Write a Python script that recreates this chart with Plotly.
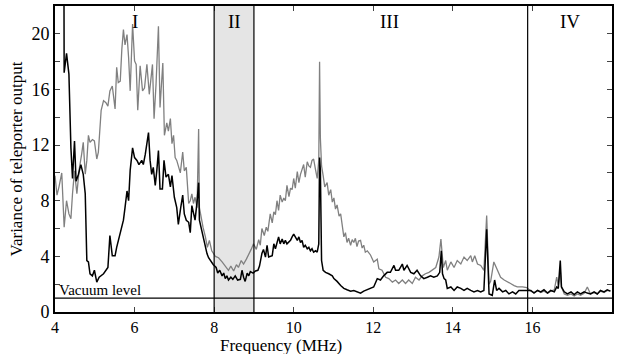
import plotly.graph_objects as go

# ---------------- data ----------------
black_x = [4.22, 4.23, 4.29, 4.35, 4.40, 4.44, 4.49, 4.53, 4.59, 4.65, 4.71, 4.76, 4.80, 4.84, 4.88, 4.94, 4.99,
           5.05, 5.11, 5.22, 5.33, 5.38, 5.44, 5.51, 5.55, 5.64, 5.72, 5.76, 5.81, 5.85, 5.89, 5.95,
           6.00, 6.06, 6.11, 6.18, 6.22, 6.27, 6.35, 6.39, 6.43, 6.47, 6.52, 6.56, 6.60, 6.64, 6.70, 6.74,
           6.79, 6.85, 6.90, 6.94, 7.00, 7.06, 7.10, 7.16, 7.21, 7.25, 7.30, 7.36, 7.40, 7.44, 7.48, 7.52,
           7.57, 7.61, 7.63, 7.67, 7.72, 7.78, 7.82, 7.86, 7.92, 7.98, 8.05, 8.09, 8.14, 8.20, 8.24, 8.28,
           8.32, 8.36, 8.42, 8.47, 8.53, 8.59, 8.66, 8.70, 8.74, 8.78, 8.83, 8.87, 8.91, 8.98, 9.04, 9.10,
           9.14, 9.20, 9.24, 9.29, 9.33, 9.37, 9.46, 9.50, 9.54, 9.58, 9.62, 9.66, 9.71, 9.75, 9.79, 9.83,
           9.92, 9.96, 10.00, 10.04, 10.09, 10.13, 10.17, 10.21, 10.25, 10.29, 10.34, 10.38, 10.42, 10.46,
           10.50, 10.55, 10.59, 10.63, 10.65, 10.67, 10.70, 10.74, 10.80, 10.88, 10.97, 11.01, 11.09, 11.18,
           11.26, 11.34, 11.43, 11.51, 11.59, 11.68, 11.76, 11.85, 11.93, 12.01, 12.10, 12.18, 12.26, 12.35,
           12.43, 12.52, 12.56, 12.64, 12.73, 12.77, 12.85, 12.94, 13.02, 13.10, 13.19, 13.27, 13.36, 13.44,
           13.52, 13.61, 13.67, 13.71, 13.74, 13.78, 13.82, 13.86, 13.95, 14.03, 14.11, 14.20, 14.28, 14.36,
           14.45, 14.53, 14.62, 14.70, 14.78, 14.85, 14.91, 14.99, 15.05, 15.10, 15.16, 15.25, 15.33, 15.41,
           15.50, 15.58, 15.66, 15.79, 15.88, 15.96, 16.04, 16.13, 16.21, 16.29, 16.38, 16.46, 16.55, 16.61,
           16.65, 16.70, 16.73, 16.80, 16.88, 16.97, 17.05, 17.13, 17.21, 17.30, 17.38, 17.46, 17.55, 17.63,
           17.71, 17.80, 17.88, 17.96]
black_y = [30.0, 17.2, 18.6, 17.1, 11.8, 9.6, 12.3, 9.4, 9.9, 10.6, 9.9, 8.5, 3.7, 3.6, 2.75, 2.6, 3.0,
           2.15, 2.5, 2.75, 3.2, 5.5, 4.05, 4.05, 4.65, 5.6, 6.6, 7.5, 8.7, 8.0, 10.2, 11.8,
           11.1, 10.9, 10.6, 10.9, 10.6, 11.35, 12.9, 10.9, 9.9, 10.4, 9.1, 10.2, 11.6, 8.85, 8.85, 10.9,
           9.7, 9.9, 9.0, 9.8, 8.25, 7.5, 6.3, 7.5, 8.4, 7.05, 6.6, 6.45, 5.7, 7.65, 7.2, 6.6,
           7.9, 9.3, 6.6, 6.1, 5.25, 4.65, 4.2, 3.9, 3.6, 3.4, 3.2, 2.8, 3.0, 2.6, 2.8, 2.4,
           2.6, 2.3, 2.5, 2.35, 2.6, 2.3, 2.35, 3.0, 2.5, 2.2, 2.8, 2.6, 2.9, 2.8, 2.95, 3.0,
           3.3, 4.2, 4.5, 3.95, 4.8, 3.95, 4.05, 4.9, 4.55, 5.0, 5.4, 4.9, 5.25, 4.9, 5.15, 4.9,
           5.15, 5.4, 5.6, 5.4, 5.15, 5.4, 5.0, 5.15, 4.65, 4.8, 4.55, 4.65, 4.4, 4.55,
           4.3, 4.4, 4.3, 4.9, 11.1, 10.2, 3.7, 3.0, 2.85, 2.75, 2.6, 2.4, 2.2, 1.9,
           1.7, 1.6, 1.5, 1.55, 1.45, 1.35, 1.5, 1.6, 1.7, 1.8, 2.4, 2.3, 2.6, 2.85,
           2.85, 3.35, 3.0, 3.0, 3.45, 3.0, 3.35, 2.85, 2.75, 3.0, 2.6, 2.4, 2.5, 2.6,
           2.5, 2.6, 2.85, 4.4, 2.75, 2.4, 2.3, 1.7, 1.8, 1.55, 1.8, 1.7, 1.55, 1.7,
           1.55, 1.45, 1.55, 1.45, 1.55, 5.95, 1.3, 1.2, 2.3, 1.55, 1.7, 1.45, 1.55, 1.3,
           1.45, 1.3, 1.55, 1.55, 1.6, 1.55, 1.36, 1.55, 1.45, 1.6, 1.36, 1.55, 1.45, 1.8,
           1.7, 3.7, 1.8, 1.45, 1.3, 1.45, 1.25, 1.45, 1.3, 1.45, 1.36, 1.3, 1.45, 1.3,
           1.55, 1.45, 1.6, 1.5]

gray_x = [4.00, 4.05, 4.10, 4.17, 4.23, 4.29, 4.35, 4.40, 4.44, 4.49, 4.55, 4.61, 4.67, 4.71, 4.76, 4.80,
          4.84, 4.88, 4.94, 4.99, 5.05, 5.09, 5.16, 5.22, 5.28, 5.33, 5.38, 5.44, 5.51, 5.55, 5.59, 5.64,
          5.68, 5.72, 5.76, 5.81, 5.85, 5.89, 5.95, 6.00, 6.04, 6.08, 6.14, 6.20, 6.25, 6.31, 6.37, 6.42,
          6.45, 6.49, 6.54, 6.60, 6.64, 6.71, 6.75, 6.81, 6.85, 6.90, 6.94, 6.98, 7.02, 7.06, 7.10, 7.15,
          7.21, 7.25, 7.30, 7.36, 7.40, 7.44, 7.48, 7.52, 7.57, 7.61, 7.63, 7.67, 7.72, 7.78, 7.83, 7.88,
          7.94, 8.03, 8.11, 8.20, 8.28, 8.36, 8.42, 8.49, 8.56, 8.61, 8.68, 8.74, 8.81, 8.87, 8.93, 8.99,
          9.06, 9.12, 9.16, 9.20, 9.26, 9.31, 9.35, 9.41, 9.46, 9.50, 9.54, 9.58, 9.62, 9.66, 9.71, 9.75,
          9.79, 9.83, 9.88, 9.92, 9.96, 10.00, 10.04, 10.09, 10.13, 10.17, 10.21, 10.25, 10.29, 10.34,
          10.38, 10.42, 10.46, 10.50, 10.55, 10.59, 10.63, 10.65, 10.67, 10.70, 10.74, 10.78, 10.84, 10.88,
          10.93, 10.97, 11.01, 11.05, 11.09, 11.14, 11.18, 11.22, 11.26, 11.30, 11.34, 11.38, 11.43, 11.47,
          11.51, 11.55, 11.59, 11.63, 11.68, 11.72, 11.76, 11.80, 11.85, 11.93, 12.01, 12.10, 12.14, 12.22,
          12.31, 12.39, 12.48, 12.56, 12.64, 12.73, 12.81, 12.89, 12.98, 13.06, 13.15, 13.23, 13.31, 13.40,
          13.48, 13.57, 13.65, 13.70, 13.76, 13.82, 13.86, 13.95, 14.03, 14.11, 14.20, 14.28, 14.36, 14.45,
          14.49, 14.55, 14.62, 14.70, 14.78, 14.85, 14.91, 14.95, 15.03, 15.12, 15.20, 15.29, 15.37, 15.45,
          15.54, 15.62, 15.75, 15.86, 15.96, 16.04, 16.13, 16.21, 16.29, 16.38, 16.46, 16.55, 16.61, 16.65,
          16.70, 16.73, 16.80, 16.88, 16.97, 17.05, 17.13, 17.21, 17.30, 17.38, 17.46, 17.55, 17.63, 17.71,
          17.80, 17.88, 17.96]
gray_y = [9.8, 8.4, 9.0, 10.0, 6.1, 8.0, 7.05, 6.7, 8.5, 10.15, 8.5, 10.3, 11.35, 12.2, 9.9, 10.9,
          12.7, 12.2, 12.4, 12.3, 11.0, 11.5, 14.5, 15.2, 15.05, 14.8, 15.9, 16.25, 14.6, 17.6, 16.5, 16.6,
          18.9, 20.3, 19.2, 19.95, 18.3, 15.9, 20.7, 18.05, 17.8, 14.5, 17.7, 15.9, 16.1, 17.8, 15.65, 17.3,
          17.8, 13.9, 16.4, 20.55, 14.7, 17.9, 12.7, 13.6, 13.0, 13.9, 12.1, 12.7, 11.1, 10.9, 10.4, 10.0,
          11.5, 10.15, 10.4, 7.8, 8.0, 8.5, 7.8, 8.25, 7.5, 13.15, 7.5, 6.8, 6.1, 5.4, 4.65, 5.15,
          4.4, 4.0, 3.9, 3.6, 3.3, 3.0, 3.3, 2.95, 3.4, 3.2, 3.7, 3.45, 3.8, 4.1, 4.5, 4.9,
          4.5, 5.2, 4.8, 6.0, 5.5, 6.1, 5.8, 7.05, 6.4, 7.2, 7.0, 8.0, 7.3, 8.4, 7.9, 8.2,
          8.0, 9.1, 8.3, 8.9, 8.8, 9.6, 8.9, 10.1, 9.3, 9.9, 10.2, 10.6, 9.7, 10.8,
          10.5, 10.4, 10.9, 11.0, 10.2, 9.6, 10.9, 18.0, 12.5, 10.5, 9.8, 9.0, 9.3, 8.4,
          8.8, 7.9, 8.2, 7.4, 7.7, 6.9, 7.05, 6.0, 5.4, 5.7, 5.0, 5.3, 4.8, 5.2,
          5.0, 5.3, 4.7, 5.1, 5.15, 4.6, 4.8, 4.3, 4.4, 4.1, 3.6, 3.8, 3.1, 3.0,
          2.5, 2.4, 2.15, 2.3, 2.05, 2.3, 2.05, 2.3, 2.05, 2.5, 2.3, 2.6, 2.75, 2.85,
          3.0, 3.2, 3.95, 5.25, 3.2, 3.7, 3.0, 3.6, 3.2, 3.7, 3.45, 3.95, 3.7, 4.05,
          3.6, 4.05, 3.45, 3.35, 3.0, 6.93, 2.0, 2.2, 3.6, 3.0, 2.5, 2.3, 2.15, 2.05,
          1.9, 1.8, 1.8, 1.75, 1.5, 1.4, 1.55, 1.4, 1.5, 1.35, 1.5, 1.6, 2.5, 1.9,
          3.0, 1.8, 1.3, 1.2, 1.3, 1.15, 1.3, 1.2, 1.35, 1.8, 1.3, 1.4, 1.3, 1.5,
          1.4, 1.55, 1.5]

region_bounds = [8.0, 9.0, 15.88]
region_labels = ["I", "II", "III", "IV"]
region_label_x = [6.0, 8.5, 12.4, 16.95]
vacuum_level = 1.0
x_ticks = [4, 6, 8, 10, 12, 14, 16]
y_ticks = [0, 4, 8, 12, 16, 20]

FONT = "Liberation Serif"

fig = go.Figure()
fig.add_trace(go.Scatter(x=gray_x, y=gray_y, mode="lines",
                         line=dict(color="#808080", width=1.3), showlegend=False))
fig.add_trace(go.Scatter(x=black_x, y=black_y, mode="lines",
                         line=dict(color="#000000", width=1.5), showlegend=False))

# shaded region II
fig.add_shape(type="rect", xref="x", yref="paper", x0=region_bounds[0], x1=region_bounds[1],
              y0=0, y1=1, fillcolor="#e5e5e5", line=dict(width=0), layer="below")
for b in region_bounds:
    fig.add_shape(type="line", xref="x", yref="paper", x0=b, x1=b, y0=0, y1=1,
                  line=dict(color="black", width=1.2))
# vacuum level
fig.add_shape(type="line", xref="paper", yref="y", x0=0, x1=1, y0=vacuum_level, y1=vacuum_level,
              line=dict(color="black", width=1.1))
fig.add_annotation(x=4.05, y=vacuum_level, xref="x", yref="y", text="Vacuum level",
                   showarrow=False, xanchor="left", yanchor="bottom",
                   font=dict(family=FONT, size=15, color="black"), yshift=-2)
for lab, lx in zip(region_labels, region_label_x):
    fig.add_annotation(x=lx, y=20.9, xref="x", yref="y", text=lab, showarrow=False,
                       font=dict(family=FONT, size=19, color="black"))

# x-axis title (sits left of centre in the reference)
fig.add_annotation(x=0.406, y=-0.108, xref="paper", yref="paper", text="Frequency (MHz)",
                   showarrow=False, xanchor="center", yanchor="middle",
                   font=dict(family=FONT, size=17, color="black"))

fig.update_layout(
    width=623, height=354,
    margin=dict(l=55, r=11, t=4, b=42),
    paper_bgcolor="white", plot_bgcolor="white",
    font=dict(family=FONT, size=16, color="black"),
    xaxis=dict(range=[4, 18], tickvals=x_ticks, ticks="inside", ticklen=5, tickwidth=1,
               showline=True, linewidth=2, linecolor="black", mirror="ticks",
               showgrid=False, zeroline=False, tickfont=dict(size=16)),
    yaxis=dict(range=[0, 22], tickvals=y_ticks, ticks="inside", ticklen=5, tickwidth=1,
               showline=True, linewidth=2, linecolor="black", mirror="ticks",
               showgrid=False, zeroline=False, tickfont=dict(size=18),
               minor=dict(dtick=2, ticks="inside", ticklen=5, tickwidth=1, showgrid=False),
               title=dict(text="Variance of teleporter output", font=dict(size=17), standoff=4)),
)

fig.write_html("out.html")
